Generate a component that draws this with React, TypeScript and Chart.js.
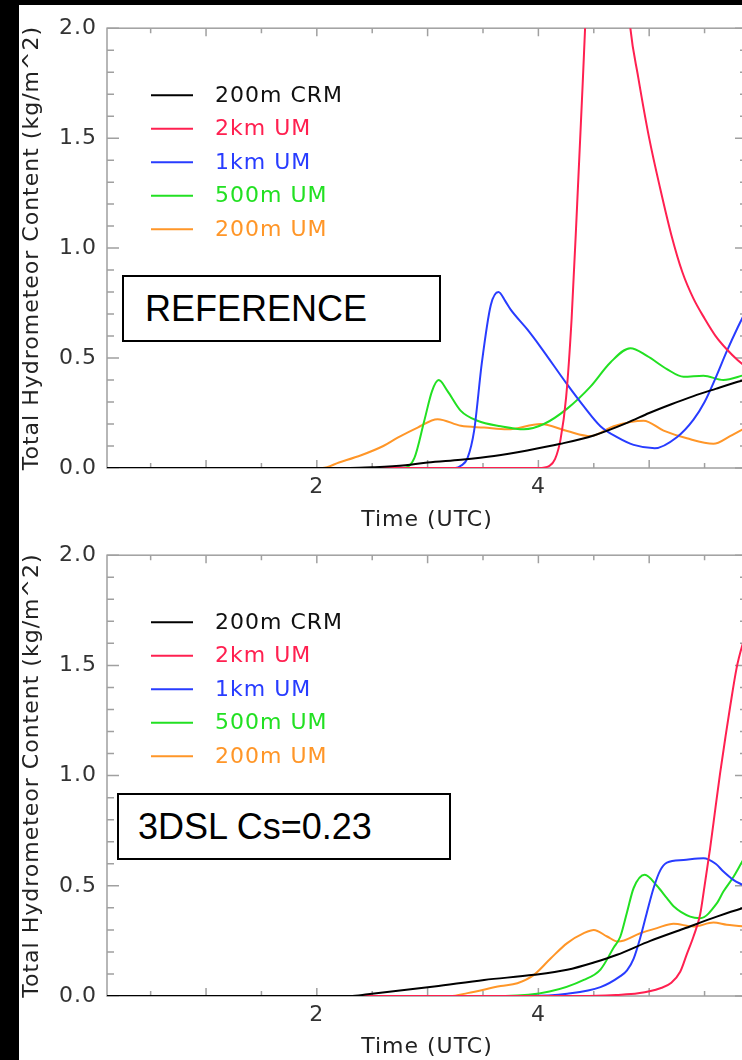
import React, { useEffect, useRef } from "react";
import { Chart, registerables } from "chart.js";

Chart.register(...registerables);

// ---------- series meta ----------
const SERIES_LABELS = ["200m CRM", "2km UM", "1km UM", "500m UM", "200m UM"];
const SERIES_COLORS = ["#000000", "#ff2050", "#283cff", "#22e022", "#ff9628"];
const LEGEND_TEXT_COLORS = ["#111111", "#ff2050", "#283cff", "#22e022", "#ff9628"];

// ---------- axes ----------
const X_MIN = 0.106;
const X_MAX = 5.883;
const X_TICK_VALUES = [0.5, 1, 1.5, 2, 2.5, 3, 3.5, 4, 4.5, 5, 5.5];
const X_LABELLED = [2, 4];
const Y_TICK_VALUES = [0, 0.5, 1, 1.5, 2];
const X_TITLE = "Time (UTC)";
const Y_TITLE = "Total Hydrometeor Content (kg/m^2)";

// ---------- REFERENCE panel ----------
const refTimeCRM = [0.1, 2.3, 2.5, 2.8, 3.0, 3.3, 3.6, 3.9, 4.2, 4.5, 4.8, 5.0, 5.2, 5.4, 5.6, 5.8, 6.0];
const refCRM = [0, 0, 0.003, 0.012, 0.025, 0.038, 0.055, 0.08, 0.11, 0.148, 0.205, 0.25, 0.29, 0.327, 0.36, 0.392, 0.42];

const refTime2km = [0.1, 4.0, 4.1, 4.15, 4.2, 4.25, 4.3, 4.35, 4.4, 4.45, 4.55, 4.65, 4.75, 4.83, 4.9, 5.0, 5.1, 5.2, 5.3, 5.4, 5.5, 5.6, 5.7, 5.8, 5.9];
const ref2km = [0, 0, 0.01, 0.04, 0.13, 0.32, 0.68, 1.2, 1.75, 2.3, 2.85, 2.95, 2.5, 2.0, 1.78, 1.5, 1.27, 1.06, 0.89, 0.77, 0.68, 0.6, 0.54, 0.49, 0.45];

const refTime1km = [0.1, 3.25, 3.3, 3.36, 3.42, 3.49, 3.57, 3.64, 3.7, 3.75, 3.9, 4.02, 4.26, 4.41, 4.56, 4.71, 4.86, 5.05, 5.25, 5.4, 5.5, 5.6, 5.7, 5.8, 5.9];
const ref1km = [0, 0, 0.01, 0.045, 0.17, 0.48, 0.74, 0.8, 0.76, 0.72, 0.63, 0.55, 0.38, 0.28, 0.19, 0.14, 0.105, 0.09, 0.14, 0.22, 0.3, 0.41, 0.53, 0.64, 0.74];

const refTime500m = [0.1, 2.78, 2.88, 2.97, 3.04, 3.1, 3.18, 3.3, 3.45, 3.66, 3.87, 4.05, 4.26, 4.47, 4.65, 4.83, 4.98, 5.16, 5.31, 5.49, 5.67, 5.84, 5.9];
const ref500m = [0, 0, 0.045, 0.215, 0.35, 0.4, 0.35, 0.26, 0.215, 0.19, 0.176, 0.2, 0.27, 0.37, 0.48, 0.545, 0.51, 0.45, 0.415, 0.42, 0.4, 0.42, 0.43];

const refTime200m = [0.1, 2.05, 2.2, 2.4, 2.6, 2.73, 2.91, 3.09, 3.3, 3.51, 3.72, 4.02, 4.26, 4.47, 4.68, 4.95, 5.13, 5.34, 5.58, 5.73, 5.84, 5.9];
const ref200m = [0, 0, 0.025, 0.058, 0.1, 0.138, 0.184, 0.222, 0.192, 0.184, 0.176, 0.2, 0.168, 0.145, 0.19, 0.215, 0.17, 0.135, 0.11, 0.145, 0.175, 0.19];

// ---------- 3DSL Cs=0.23 panel ----------
const csTimeCRM = [0.1, 2.3, 2.46, 3.06, 3.51, 3.96, 4.26, 4.5, 4.71, 5.01, 5.31, 5.61, 5.84, 6.0];
const csCRM = [0, 0, 0.008, 0.043, 0.073, 0.096, 0.119, 0.152, 0.187, 0.25, 0.305, 0.36, 0.398, 0.42];

const csTime2km = [0.1, 4.4, 4.7, 4.9, 5.1, 5.2, 5.28, 5.34, 5.4, 5.46, 5.5, 5.55, 5.6, 5.64, 5.69, 5.73, 5.79, 5.84, 5.9, 6.0];
const cs2km = [0, 0, 0.005, 0.012, 0.035, 0.06, 0.11, 0.19, 0.27, 0.37, 0.5, 0.67, 0.86, 1.01, 1.18, 1.31, 1.49, 1.59, 1.68, 1.8];

const csTime1km = [0.1, 3.9, 4.26, 4.56, 4.74, 4.8, 4.86, 4.92, 4.98, 5.04, 5.1, 5.16, 5.31, 5.49, 5.6, 5.67, 5.76, 5.84, 5.9];
const cs1km = [0, 0, 0.01, 0.04, 0.09, 0.116, 0.17, 0.265, 0.38, 0.49, 0.57, 0.605, 0.617, 0.625, 0.6, 0.565, 0.527, 0.505, 0.49];

const csTime500m = [0.1, 3.7, 4.1, 4.41, 4.56, 4.68, 4.74, 4.8, 4.86, 4.96, 5.07, 5.16, 5.22, 5.37, 5.46, 5.61, 5.67, 5.76, 5.84, 5.9];
const cs500m = [0, 0, 0.02, 0.073, 0.12, 0.22, 0.27, 0.38, 0.49, 0.55, 0.5, 0.444, 0.407, 0.36, 0.353, 0.42, 0.474, 0.54, 0.61, 0.66];

const csTime200m = [0.1, 3.2, 3.36, 3.66, 3.81, 3.96, 4.11, 4.26, 4.41, 4.5, 4.62, 4.72, 4.92, 5.07, 5.22, 5.4, 5.58, 5.7, 5.84, 5.9];
const cs200m = [0, 0, 0.013, 0.045, 0.058, 0.096, 0.17, 0.24, 0.285, 0.3, 0.27, 0.247, 0.285, 0.308, 0.328, 0.315, 0.333, 0.323, 0.316, 0.31];

const REF_TIMES = [refTimeCRM, refTime2km, refTime1km, refTime500m, refTime200m];
const REF_VALUES = [refCRM, ref2km, ref1km, ref500m, ref200m];
const CS_TIMES = [csTimeCRM, csTime2km, csTime1km, csTime500m, csTime200m];
const CS_VALUES = [csCRM, cs2km, cs1km, cs500m, cs200m];

// ---------- styling ----------
const FONT = "'DejaVu Sans', 'Noto Sans', sans-serif";
const AXIS_COLOR = "#a0a0a0";
const CANVAS_LEFT = 19;
const CANVAS_WIDTH = 745;
const PLOT_LEFT = 88;
const PAD_TOP = 17;
const PAD_RIGHT = 17;

const letterSpacingPlugin = {
  id: "letterSpacing",
  beforeDraw(chart: any) {
    try {
      chart.ctx.letterSpacing = "1px";
    } catch (e) {}
  },
};

const framePlugin = {
  id: "idlFrame",
  beforeDatasetsDraw(chart: any) {
    const { ctx, chartArea, scales } = chart;
    const { left, right, top, bottom } = chartArea;
    const x = scales.x;
    const y = scales.y;
    ctx.save();
    ctx.strokeStyle = AXIS_COLOR;
    ctx.lineWidth = 1.5;
    ctx.strokeRect(left, top, right - left, bottom - top);
    ctx.beginPath();
    for (let i = 0; i <= 20; i++) {
      const v = i / 10;
      const py = y.getPixelForValue(v);
      const len = i % 5 === 0 ? 12 : 7;
      ctx.moveTo(left, py);
      ctx.lineTo(left + len, py);
      ctx.moveTo(right, py);
      ctx.lineTo(right - len, py);
    }
    for (const v of X_TICK_VALUES) {
      const px = x.getPixelForValue(v);
      const len = Number.isInteger(v) ? 8 : 5;
      ctx.moveTo(px, bottom);
      ctx.lineTo(px, bottom - len);
      ctx.moveTo(px, top);
      ctx.lineTo(px, top + len);
    }
    ctx.stroke();
    ctx.restore();
  },
};

const legendPlugin = {
  id: "idlLegend",
  afterDatasetsDraw(chart: any) {
    const { ctx, chartArea } = chart;
    ctx.save();
    ctx.font = `22px ${FONT}`;
    ctx.textBaseline = "middle";
    ctx.textAlign = "left";
    chart.data.datasets.forEach((ds: any, i: number) => {
      const yy = chartArea.top + 67 + i * 33.5;
      ctx.strokeStyle = ds.borderColor;
      ctx.lineWidth = 2;
      ctx.beginPath();
      ctx.moveTo(132, yy);
      ctx.lineTo(174, yy);
      ctx.stroke();
      ctx.fillStyle = LEGEND_TEXT_COLORS[i];
      ctx.fillText(ds.label, 196, yy + 1);
    });
    ctx.restore();
  },
};

type PanelProps = {
  top: number;
  height: number;
  titlePad: number;
  times: number[][];
  values: number[][];
  boxText: string;
  box: { left: number; top: number; width: number; height: number; padLeft: number };
};

function Panel({ top, height, titlePad, times, values, boxText, box }: PanelProps) {
  const ref = useRef<HTMLCanvasElement | null>(null);
  useEffect(() => {
    if (!ref.current) return;
    const plotBottom = height - 64 - (height === 530 ? 3 : 0);
    const chart = new Chart(ref.current, {
      type: "line",
      data: {
        datasets: SERIES_LABELS.map((label, i) => ({
          label,
          data: times[i].map((t, j) => ({ x: t, y: values[i][j] })),
          borderColor: SERIES_COLORS[i],
          backgroundColor: SERIES_COLORS[i],
          borderWidth: 2,
          pointRadius: 0,
          fill: false,
          cubicInterpolationMode: "monotone" as const,
        })),
      },
      options: {
        animation: false,
        responsive: false,
        devicePixelRatio: 1,
        events: [],
        layout: { padding: { top: PAD_TOP, right: PAD_RIGHT, left: 0, bottom: 0 } },
        plugins: { legend: { display: false }, tooltip: { enabled: false } },
        scales: {
          x: {
            type: "linear",
            min: X_MIN,
            max: X_MAX,
            grid: { display: false, drawTicks: false },
            border: { display: false },
            afterBuildTicks: (s: any) => {
              s.ticks = X_TICK_VALUES.map((v) => ({ value: v }));
            },
            afterFit: (s: any) => {
              s.height = height - plotBottom;
            },
            ticks: {
              autoSkip: false,
              maxRotation: 0,
              minRotation: 0,
              padding: 6,
              color: "#333333",
              font: { family: FONT, size: 22 },
              callback: (v: any) => (X_LABELLED.includes(Number(v)) ? String(v) : ""),
            },
            title: {
              display: true,
              text: X_TITLE,
              color: "#222222",
              font: { family: FONT, size: 22 },
              padding: { top: 0, bottom: titlePad },
            },
          },
          y: {
            type: "linear",
            min: 0,
            max: 2,
            grid: { display: false, drawTicks: false },
            border: { display: false },
            afterBuildTicks: (s: any) => {
              s.ticks = Y_TICK_VALUES.map((v) => ({ value: v }));
            },
            afterFit: (s: any) => {
              s.width = PLOT_LEFT;
            },
            ticks: {
              padding: 10,
              color: "#333333",
              font: { family: FONT, size: 22 },
              callback: (v: any) => Number(v).toFixed(1),
            },
            title: {
              display: true,
              text: Y_TITLE,
              color: "#222222",
              font: { family: FONT, size: 22 },
              padding: { top: 0, bottom: 0 },
            },
          },
        },
      },
      plugins: [letterSpacingPlugin, framePlugin, legendPlugin],
    } as any);
    return () => chart.destroy();
  }, []);

  return (
    <>
      <canvas
        ref={ref}
        width={CANVAS_WIDTH}
        height={height}
        style={{
          position: "absolute",
          left: CANVAS_LEFT,
          top,
          width: CANVAS_WIDTH,
          height,
          background: "#ffffff",
          display: "block",
        }}
      />
      <div
        style={{
          position: "absolute",
          left: box.left,
          top: box.top,
          width: box.width,
          height: box.height,
          boxSizing: "border-box",
          border: "2px solid #000",
          background: "#ffffff",
          display: "flex",
          alignItems: "center",
          paddingLeft: box.padLeft,
          fontFamily: "'Liberation Sans', Arial, sans-serif",
          fontSize: 36,
          color: "#000",
          whiteSpace: "nowrap",
        }}
      >
        {boxText}
      </div>
    </>
  );
}

export default function App() {
  return (
    <div
      style={{
        position: "absolute",
        left: 0,
        top: 0,
        width: 742,
        height: 1060,
        overflow: "hidden",
        background: "#000000",
      }}
    >
      <Panel
        top={5}
        height={530}
        titlePad={2}
        times={REF_TIMES}
        values={REF_VALUES}
        boxText="REFERENCE"
        box={{ left: 122, top: 275, width: 319, height: 67, padLeft: 21 }}
      />
      <Panel
        top={532}
        height={528}
        titlePad={0}
        times={CS_TIMES}
        values={CS_VALUES}
        boxText="3DSL Cs=0.23"
        box={{ left: 117, top: 793, width: 334, height: 67, padLeft: 19 }}
      />
    </div>
  );
}
